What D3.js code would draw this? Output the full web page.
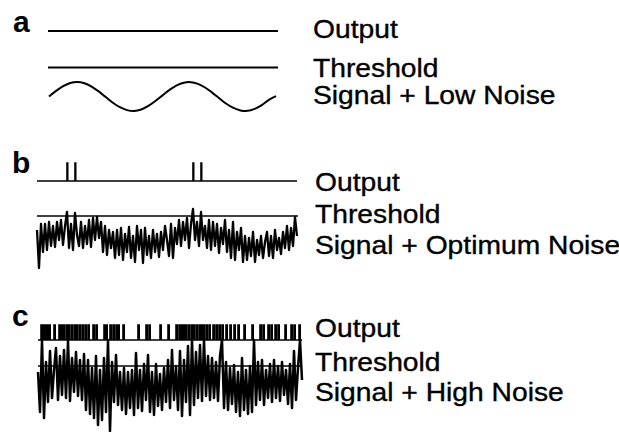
<!DOCTYPE html>
<html><head><meta charset="utf-8">
<script src="https://cdn.jsdelivr.net/npm/d3@7"></script>
<style>html,body{margin:0;padding:0;background:#fff;}svg{display:block;}</style>
</head><body>
<script>
// ---- data ----
const panelLetters = ["a", "b", "c"];
const rowLabels = [
  ["Output", "Threshold", "Signal + Low Noise"],
  ["Output", "Threshold", "Signal + Optimum Noise"],
  ["Output", "Threshold", "Signal + High Noise"]
];
// panel a: signal with low noise (smooth), amplitude units
const signalA = [0, 0.39, 0.71, 0.93, 1.0, 0.91, 0.68, 0.35, -0.04, -0.43, -0.74, -0.94, -1.0, -0.9, -0.65, -0.31,
  0.08, 0.46, 0.77, 0.95, 0.99, 0.87, 0.62, 0.27, -0.12, -0.5, -0.79, -0.96, -0.99, -0.85, -0.59, -0.23, 0.02];
const thresholdA = 2.0;
// panel b: signal + optimum noise
const noiseB = [12, -26, 18, -10, 18, -8, 20, -4, 16, -5, 20, 2, 22, -3, 16, 30, -6, 18, -8, 29, 7,
  -4, 20, -6, 16, -2, 22, -5, 24, 2, 25, 4, 20, -10, 16, -13, 12, -6, 10,
  -16, 12, -13, 14, -18, 8, -10, 15, -16, 6, -20, 16, -8, 12, -21, 14, -13,
  6, -16, 12, -10, 8, -15, 10, -8, 16, 2, -14, 18, -16, 14, -2, 22, -4, 20, 2, 24, -6, 18, 33,
  2, 20, -4, 30, 2, 16, -6, 22, -8, 20, -4, 18, -11, 14, -2, 22, -10, 12,
  -16, 20, -18, 10, -8, 14, -20, 6, -18, 4, -14, 10, -20, 2, -13, 6, -16, 0,
  10, -14, 6, -16, 12, -8, 4, -12, 10, -6, 16, -8, 14, -4, 25, 6];
const thresholdB = 26;
const spikesB = [15, 19, 78, 82];
// panel c: signal + high noise
const noiseC = [13, -27, 45, -33, 23, -17, 34, -13, 15, 37, -15, 29, -10, 35, -13, 44, -16, 27, -7,
  33, -11, 25, -15, 31, -25, 25, -29, 17, -33, 29, -40, 15, -35, 27, -27, 45, -46,
  23, -17, 30, -20, 13, -25, 17, -29, 13, -23, 15, -30, 32, -23, 15, -26, 21, -15,
  30, -27, 13, -30, 21, -21, 11, -25, 17, -17, 25, -23, 35, -15, 19, -25, 34, -31, 25, -17,
  39, -30, 45, -20, 33, -13, 40, -16, 45, -11, 29, -15, 27, -13, 23, -16, 29, 45,
  -23, 23, -25, 17, -19, 20, -27, 13, -31, 27, -25, 15, -29, 19, -27, 45, -20,
  23, -15, 25, -20, 15, -13, 21, -17, 25, -13, 19, -16, 23, -10, 15, -19, 21, -23, 34, -15, 17, 45, 5];
const thresholdC = 19;
const spikesC = [1.5, 2.5, 3.5, 4.5, 5.5, 8, 10.5, 11.5, 12.5, 14, 15, 16.5, 18, 19, 20.5, 22, 23.5, 25,
  27.5, 29, 33, 34, 36, 37.5, 39, 40, 42.5, 50, 54, 55.5, 61, 65, 69, 70.5, 71.5, 72.5, 73.5, 75,
  76.5, 77.5, 79, 80.5, 81.5, 82.5, 84, 85.5, 87.5, 89, 90.5, 92, 94, 96, 98, 100, 103, 107, 111,
  112.5, 115, 116.5, 118.5, 120, 123.5, 126.5, 128, 130.5];

// ---- drawing ----
const W = 619, H = 432;
const svg = d3.select("body").append("svg").attr("width", W).attr("height", H);
const ink = "#000";

function pulses(spikes, n, w) {
  const pts = [[0, 0]];
  spikes.forEach(t => { pts.push([t, 0], [t, 1], [t + w, 1], [t + w, 0]); });
  pts.push([n, 0]);
  return pts;
}

const panels = [
  { sig: signalA, thr: thresholdA, spikes: [], pw: 0,
    xr: [49, 276], lineX: [48, 278], sigY: [[-1, 1], [111, 82]], outY: [31, 16],
    sw: 2, curve: d3.curveCatmullRom },
  { sig: noiseB, thr: thresholdB, spikes: spikesB, pw: 0.35,
    xr: [37, 297], lineX: [37, 298], sigY: [[-30, 30], [272, 212]], outY: [181, 163],
    sw: 2.3, curve: d3.curveLinear },
  { sig: noiseC, thr: thresholdC, spikes: spikesC, pw: 0.6,
    xr: [38, 302], lineX: [38, 302], sigY: [[-46, 46], [431, 339]], outY: [340, 325],
    sw: 2.5, curve: d3.curveLinear }
];

panels.forEach((p, k) => {
  const n = p.sig.length - 1;
  const x = d3.scaleLinear().domain([0, n]).range(p.xr);
  const y = d3.scaleLinear().domain(p.sigY[0]).range(p.sigY[1]);
  const yo = d3.scaleLinear().domain([0, 1]).range(p.outY);
  const xl = d3.scaleLinear().domain([0, 1]).range(p.lineX);
  const g = svg.append("g");
  // output trace
  const outPts = pulses(p.spikes, n, p.pw);
  g.append("path")
    .attr("d", d3.line().x(d => k === 0 ? xl(d[0] / n) : x(d[0])).y(d => yo(d[1]))(outPts))
    .attr("fill", "none").attr("stroke", ink).attr("stroke-width", k === 0 ? 2 : 1.6);
  // threshold
  g.append("line")
    .attr("x1", xl(0)).attr("x2", xl(1))
    .attr("y1", y(p.thr)).attr("y2", y(p.thr))
    .attr("stroke", ink).attr("stroke-width", k === 0 ? 2 : 1.6);
  // signal
  g.append("path")
    .attr("d", d3.line().x((d, i) => x(i)).y(d => y(d)).curve(p.curve)(p.sig))
    .attr("fill", "none").attr("stroke", ink).attr("stroke-width", p.sw)
    .attr("stroke-linejoin", "round");
});

// panel letters
const letterPos = [[13, 32], [12, 173], [12, 326]];
panelLetters.forEach((t, i) => {
  svg.append("text").attr("x", letterPos[i][0]).attr("y", letterPos[i][1])
    .attr("font-family", "Liberation Sans, Arial, sans-serif").attr("font-size", 30)
    .attr("font-weight", "bold").attr("fill", ink).text(t);
});

// row labels
const labelX = [313, 315, 315];
const labelY = [[38, 77, 104], [191, 223, 254], [337, 371, 401]];
rowLabels.forEach((rows, i) => {
  rows.forEach((t, j) => {
    svg.append("text")
      .attr("transform", `translate(${labelX[i]},${labelY[i][j]}) scale(1.13,1)`)
      .attr("font-family", "Liberation Sans, Arial, sans-serif").attr("font-size", 25)
      .attr("fill", ink).attr("stroke", ink).attr("stroke-width", 0.35).text(t);
  });
});
</script>
</body></html>
